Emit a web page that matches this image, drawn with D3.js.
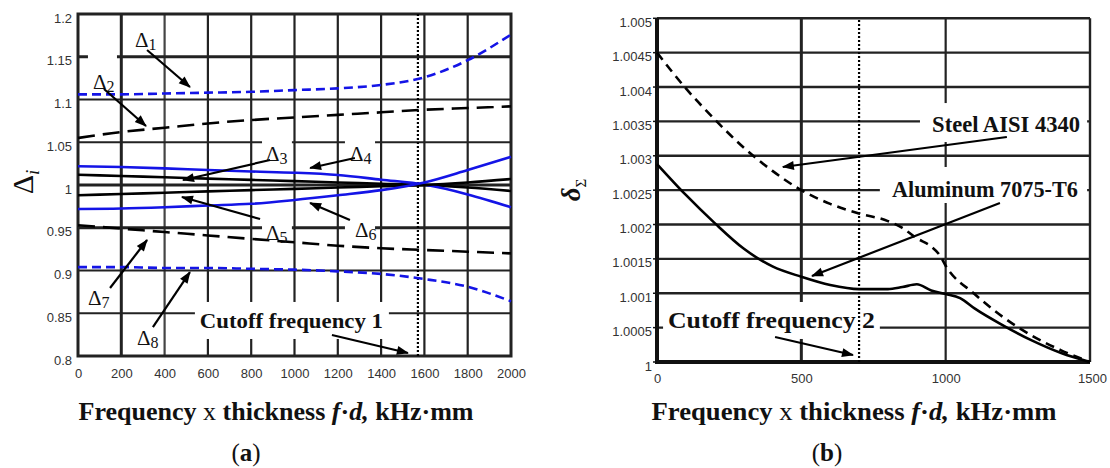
<!DOCTYPE html>
<html><head><meta charset="utf-8">
<script src="https://cdn.jsdelivr.net/npm/d3@7"></script>
<style>body{margin:0;background:#fff} svg{display:block}</style>
</head><body>
<svg id="c" width="1110" height="468"></svg>
<script>
// ---------- Panel (a) data ----------
const fdA = [0,200,400,600,800,1000,1200,1400,1600,1800,2000];
const delta1 = [1.106,1.106,1.107,1.108,1.109,1.111,1.113,1.117,1.126,1.146,1.176];
const delta2 = [1.055,1.062,1.067,1.072,1.076,1.079,1.082,1.085,1.088,1.090,1.092];
const delta3 = [1.012,1.0105,1.009,1.0075,1.006,1.0045,1.003,1.0015,1.000,0.997,0.993];
const delta4 = [1.022,1.021,1.0195,1.0175,1.0158,1.0144,1.0117,1.0062,1.0005,0.989,0.974];
const delta5 = [0.988,0.9895,0.991,0.9925,0.994,0.9955,0.997,0.9985,1.000,1.003,1.007];
const delta6 = [0.972,0.9725,0.974,0.976,0.978,0.9825,0.988,0.994,1.003,1.0175,1.033];
const delta7 = [0.953,0.949,0.945,0.941,0.937,0.933,0.929,0.926,0.924,0.922,0.920];
const delta8 = [0.904,0.904,0.903,0.903,0.902,0.901,0.899,0.896,0.890,0.881,0.864];
const xTicksA = [0,200,400,600,800,1000,1200,1400,1600,1800,2000];
const yTicksA = [0.8,0.85,0.9,0.95,1,1.05,1.1,1.15,1.2];
const cutoffA = 1570;

// ---------- Panel (b) data ----------
const fdSteel = [0,100,200,300,400,500,600,700,800,850,900,950,980,1000,1100,1200,1300,1400,1500];
const steel   = [1.0045,1.00398,1.00353,1.00312,1.00278,1.0025,1.0023,1.00216,1.00205,1.00195,1.0018,1.00168,1.00155,1.0014,1.00099,1.00065,1.00038,1.00017,1.0];
const fdAl    = [0,100,200,300,400,500,600,700,800,850,900,950,1000,1050,1100,1200,1300,1400,1500];
const aluminum= [1.00288,1.00243,1.00202,1.00165,1.00139,1.00124,1.00112,1.00106,1.00106,1.00109,1.00113,1.00104,1.00099,1.00093,1.00078,1.00053,1.00031,1.00013,1.0];
const xTicksB = [0,500,1000,1500];
const yTicksB = [1,1.0005,1.001,1.0015,1.002,1.0025,1.003,1.0035,1.004,1.0045,1.005];
const cutoffB = 700;

const svg = d3.select("#c");
const BLUE = "#1414e6", GRID = "#222";

const defs = svg.append("defs");
defs.append("marker").attr("id","arr").attr("viewBox","0 0 12 10").attr("refX",11).attr("refY",5)
  .attr("markerUnits","userSpaceOnUse").attr("markerWidth",13).attr("markerHeight",10).attr("orient","auto")
  .append("path").attr("d","M0,0.5 L12,5 L0,9.5 Z").attr("fill","#000");

function drawArrow(g, x, y, p0, p1){
  g.append("line").attr("x1",x(p0[0])).attr("y1",y(p0[1])).attr("x2",x(p1[0])).attr("y2",y(p1[1]))
   .attr("stroke","#000").attr("stroke-width",2.2).attr("marker-end","url(#arr)");
}
function box(g, x, y, x0, y0, x1, y1){
  g.append("rect").attr("x",x(x0)).attr("y",y(y1)).attr("width",x(x1)-x(x0)).attr("height",y(y0)-y(y1)).attr("fill","#fff");
}
function styleAxis(g){
  g.select(".domain").remove();
  g.selectAll(".tick line").remove();
  g.attr("font-family","Liberation Sans, Arial, sans-serif").attr("font-size",13);
  g.selectAll(".tick text").attr("fill","#333");
}
function xTitle(cx, by, len){
  const t = svg.append("text").attr("x",cx).attr("y",by).attr("text-anchor","middle")
    .attr("font-family","Liberation Serif, serif").attr("font-size",26).attr("font-weight","bold")
    .attr("fill","#111").attr("textLength",len).attr("lengthAdjust","spacingAndGlyphs");
  t.append("tspan").text("Frequency ");
  t.append("tspan").attr("font-weight","normal").text("x");
  t.append("tspan").text(" thickness ");
  t.append("tspan").attr("font-style","italic").text("f");
  t.append("tspan").text("·");
  t.append("tspan").attr("font-style","italic").text("d,");
  t.append("tspan").text(" kHz·mm");
}
function panelLabel(cx, by, letter){
  const t = svg.append("text").attr("x",cx).attr("y",by).attr("text-anchor","middle")
    .attr("font-family","Liberation Serif, serif").attr("font-size",25).attr("fill","#111");
  t.append("tspan").text("(");
  t.append("tspan").attr("font-weight","bold").text(letter);
  t.append("tspan").text(")");
}

// ================= Panel (a) =================
{
  const x = d3.scaleLinear([0,2000],[78,511]);
  const y = d3.scaleLinear([0.8,1.2],[356,14]);
  const g = svg.append("g");
  g.selectAll(".vg").data(xTicksA.slice(1,-1)).join("line")
    .attr("x1",d=>x(d)).attr("x2",d=>x(d)).attr("y1",y(0.8)).attr("y2",y(1.2))
    .attr("stroke",d=>d===400?"#444":GRID).attr("stroke-width",d=>d===200?3:2.2);
  g.selectAll(".hg").data(yTicksA.slice(1,-1)).join("line")
    .attr("x1",x(0)).attr("x2",x(2000)).attr("y1",d=>y(d)).attr("y2",d=>y(d))
    .attr("stroke",GRID).attr("stroke-width",d=>(d===1.15||d===0.95||d===1)?3:2.2);
  box(g,x,y,46,1.1088,180,1.1556);
  box(g,x,y,850,1.0234,988,1.0585);
  box(g,x,y,1233,1.0234,1372,1.0585);
  box(g,x,y,850,0.9298,988,0.9649);
  box(g,x,y,1233,0.9298,1372,0.9649);
  box(g,x,y,540,0.8199,1436,0.8632);
  g.append("rect").attr("x",x(0)).attr("y",y(1.2)).attr("width",x(2000)-x(0)).attr("height",y(0.8)-y(1.2))
    .attr("fill","none").attr("stroke",GRID).attr("stroke-width",3);
  g.append("line").attr("x1",x(cutoffA)).attr("x2",x(cutoffA)).attr("y1",y(0.8)).attr("y2",y(1.2))
    .attr("stroke","#000").attr("stroke-width",2.2).attr("stroke-dasharray","2,2");
  const line = d3.line().x((d,i)=>x(fdA[i])).y(d=>y(d)).curve(d3.curveMonotoneX);
  const series = [
    [delta1,BLUE,"9,5"],[delta2,"#000","17,8"],[delta3,"#000",null],[delta4,BLUE,null],
    [delta5,"#000",null],[delta6,BLUE,null],[delta7,"#000","17,8"],[delta8,BLUE,"9,5"]];
  series.forEach(([v,c,dash])=>{
    g.append("path").attr("d",line(v)).attr("fill","none").attr("stroke",c).attr("stroke-width",2.6)
      .attr("stroke-dasharray",dash);
  });
  const ax = g.append("g").attr("transform",`translate(0,${y(0.8)+17})`)
    .call(d3.axisBottom(x).tickValues(xTicksA).tickFormat(d=>String(d)).tickSize(0).tickPadding(0));
  styleAxis(ax); ax.selectAll(".tick text").attr("dy","0.35em");
  const ay = g.append("g").attr("transform",`translate(${x(0)-6},0)`)
    .call(d3.axisLeft(y).tickValues(yTicksA).tickFormat(d=>String(d)).tickSize(0).tickPadding(0));
  styleAxis(ay); ay.selectAll(".tick text").attr("dy","0.62em");
  const lab = (px,py,sub)=>{
    const t = g.append("text").attr("x",x(px)).attr("y",y(py)).attr("font-family","Liberation Serif, serif")
      .attr("font-size",21).attr("fill","#111");
    t.append("tspan").text("Δ");
    t.append("tspan").attr("font-size",16).attr("dy",3).text(sub);
  };
  lab(263,1.1614,"1"); drawArrow(g,x,y,[319,1.1579],[517,1.1146]);
  lab(69,1.1123,"2");  drawArrow(g,x,y,[120,1.1123],[314,1.069]);
  lab(868,1.028,"3");  drawArrow(g,x,y,[887,1.0292],[485,1.0058]);
  lab(1256,1.028,"4"); drawArrow(g,x,y,[1279,1.0316],[1072,1.0199]);
  lab(868,0.9357,"5"); drawArrow(g,x,y,[841,0.9602],[480,0.986]);
  lab(1279,0.9392,"6");drawArrow(g,x,y,[1256,0.9591],[1072,0.979]);
  lab(46,0.8596,"7");  drawArrow(g,x,y,[148,0.8795],[319,0.9357]);
  lab(273,0.8129,"8"); drawArrow(g,x,y,[346,0.8339],[517,0.8982]);
  g.append("text").attr("x",x(563)).attr("y",y(0.8327)).attr("font-family","Liberation Serif, serif")
    .attr("font-size",22).attr("font-weight","bold").attr("fill","#111")
    .attr("textLength",183).attr("lengthAdjust","spacingAndGlyphs").text("Cutoff frequency 1");
  drawArrow(g,x,y,[1173,0.8246],[1524,0.8035]);
  const yt = svg.append("text").attr("transform","translate(33,182) rotate(-90)").attr("text-anchor","middle")
    .attr("font-family","Liberation Serif, serif").attr("font-size",30).attr("fill","#111");
  yt.append("tspan").text("Δ");
  yt.append("tspan").attr("font-size",19).attr("font-style","italic").attr("dy",6).text("i");
  xTitle(276,420,395);
  panelLabel(246,461,"a");
}

// ================= Panel (b) =================
{
  const x = d3.scaleLinear([0,1500],[657,1090]);
  const y = d3.scaleLinear([1,1.005],[362,18.3]);
  const g = svg.append("g");
  g.selectAll(".vg").data([500,1000]).join("line")
    .attr("x1",d=>x(d)).attr("x2",d=>x(d)).attr("y1",y(1)).attr("y2",y(1.005))
    .attr("stroke",GRID).attr("stroke-width",d=>d===500?3:2.2);
  g.selectAll(".hg").data(yTicksB.slice(1,-1)).join("line")
    .attr("x1",x(0)).attr("x2",x(1500)).attr("y1",d=>y(d)).attr("y2",d=>y(d))
    .attr("stroke",GRID).attr("stroke-width",2.4);
  box(g,x,y,911,1.0032,1490,1.003767);
  box(g,x,y,772,1.002313,1490,1.002837);
  box(g,x,y,21,1.000335,772,1.000873);
  g.append("line").attr("x1",x(0)).attr("x2",x(1500)).attr("y1",y(1.005)).attr("y2",y(1.005)).attr("stroke",GRID).attr("stroke-width",2.4);
  g.append("line").attr("x1",x(1500)).attr("x2",x(1500)).attr("y1",y(1)).attr("y2",y(1.005)).attr("stroke",GRID).attr("stroke-width",2.4);
  g.append("line").attr("x1",x(0)).attr("x2",x(0)).attr("y1",y(1)+2).attr("y2",y(1.005)).attr("stroke","#111").attr("stroke-width",4);
  g.append("line").attr("x1",x(0)-2).attr("x2",x(1500)).attr("y1",y(1)).attr("y2",y(1)).attr("stroke","#111").attr("stroke-width",4);
  g.selectAll(".yt").data(yTicksB).join("line").attr("x1",x(0)-4).attr("x2",x(0)).attr("y1",d=>y(d)).attr("y2",d=>y(d))
    .attr("stroke","#111").attr("stroke-width",1.5);
  g.append("line").attr("x1",x(cutoffB)).attr("x2",x(cutoffB)).attr("y1",y(1)).attr("y2",y(1.005))
    .attr("stroke","#000").attr("stroke-width",2.2).attr("stroke-dasharray","2,2");
  const lS = d3.line().x((d,i)=>x(fdSteel[i])).y(d=>y(d)).curve(d3.curveMonotoneX);
  const lA = d3.line().x((d,i)=>x(fdAl[i])).y(d=>y(d)).curve(d3.curveMonotoneX);
  g.append("path").attr("d",lS(steel)).attr("fill","none").attr("stroke","#000").attr("stroke-width",2.6).attr("stroke-dasharray","9,6");
  g.append("path").attr("d",lA(aluminum)).attr("fill","none").attr("stroke","#000").attr("stroke-width",2.6);
  const ax = g.append("g").attr("transform",`translate(0,${y(1)+16})`)
    .call(d3.axisBottom(x).tickValues(xTicksB).tickFormat(d=>String(d)).tickSize(0).tickPadding(0));
  styleAxis(ax); ax.selectAll(".tick text").attr("dy","0.35em");
  ax.selectAll(".tick text").filter(d=>d===1500).attr("dx",2);
  const ay = g.append("g").attr("transform",`translate(${x(0)-5},0)`)
    .call(d3.axisLeft(y).tickValues(yTicksB).tickFormat(d=>String(d)).tickSize(0).tickPadding(0));
  styleAxis(ay); ay.selectAll(".tick text").attr("dy","0.62em");
  const ann = (px,py,str,len)=>g.append("text").attr("x",x(px)).attr("y",y(py)).attr("font-family","Liberation Serif, serif")
    .attr("font-size",23).attr("font-weight","bold").attr("fill","#111")
    .attr("textLength",len).attr("lengthAdjust","spacingAndGlyphs").text(str);
  ann(953,1.003346,"Steel AISI 4340",148);
  drawArrow(g,x,y,[1212,1.003273],[436,1.002837]);
  ann(814,1.0024,"Aluminum 7075-T6",186);
  drawArrow(g,x,y,[1188,1.002313],[537,1.001251]);
  ann(38,1.000495,"Cutoff frequency 2",207);
  drawArrow(g,x,y,[409,1.000363],[679,1.000102]);
  const yt = svg.append("text").attr("transform","translate(580,190) rotate(-90)").attr("text-anchor","middle")
    .attr("font-family","Liberation Serif, serif").attr("font-size",27).attr("fill","#111");
  yt.append("tspan").attr("font-weight","bold").attr("font-style","italic").text("δ");
  yt.append("tspan").attr("font-size",15).attr("dy",6).text("Σ");
  xTitle(854,420,405);
  panelLabel(827,461,"b");
}
</script>
</body></html>
